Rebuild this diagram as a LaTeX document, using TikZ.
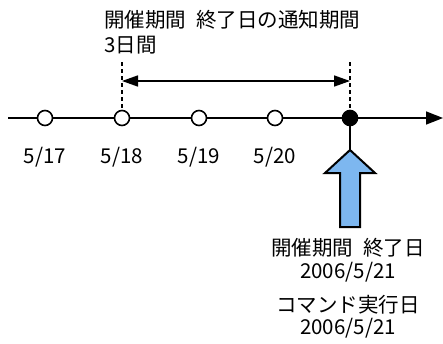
\documentclass[tikz,border=0pt]{standalone}
\usepackage{fontspec}
\setmainfont{Noto Sans CJK JP}
\usetikzlibrary{arrows.meta}
\begin{document}
\begin{tikzpicture}[x=1pt,y=-1pt,
  txt/.style={inner sep=0pt,font=\fontsize{20.5}{24}\selectfont},
  opendot/.style={circle,draw,fill=white,line width=1.6pt,minimum size=15pt,inner sep=0pt},
  fulldot/.style={circle,draw,fill=black,line width=1.6pt,minimum size=15pt,inner sep=0pt},
  axis/.style={line width=1.6pt},
  guide/.style={line width=1.6pt,dash pattern=on 4pt off 3pt}]
\useasboundingbox (0,0) rectangle (443,343);
\coordinate (L) at (8,118);
\coordinate (R) at (443,118);
\draw[axis,-{Triangle[length=17pt,width=13pt]}] (L) -- (R);
\node[opendot] (d17) at (45,118) {};
\node[opendot] (d18) at (122,118) {};
\node[opendot] (d19) at (199,118) {};
\node[opendot] (d20) at (275,118) {};
\node[fulldot] (d21) at (350,118) {};
\node[txt] (l17) at (45,157) {5/17};
\node[txt] (l18) at (122,157) {5/18};
\node[txt] (l19) at (199,157) {5/19};
\node[txt] (l20) at (275,157) {5/20};
\coordinate (t18) at (122,62);
\coordinate (t21) at (350,62);
\draw[guide] (t18) -- (d18.north);
\draw[guide] (t21) -- (d21.north);
\coordinate (a18) at (122,81);
\coordinate (a21) at (350,81);
\draw[axis,{Triangle[length=16pt,width=11pt]}-{Triangle[length=16pt,width=11pt]}] (a18) -- (a21);
\node[txt,anchor=west] (title1) at (104,20) {開催期間\hspace{0.5em}終了日の通知期間};
\node[txt,anchor=west] (title2) at (104,45) {3日間};
\coordinate (tip) at (350,150);
\draw[axis] (d21.south) -- (tip);
\draw[line width=2pt,fill={rgb,255:red,125;green,183;blue,240},line join=miter]
  (tip) -- (375,173) -- (360,173) -- (360,227) -- (340,227) -- (340,173) -- (325,173) -- cycle;
\node[txt] (b1) at (348,248) {開催期間\hspace{0.5em}終了日};
\node[txt] (b2) at (348,272) {2006/5/21};
\node[txt] (b3) at (348,305) {コマンド実行日};
\node[txt] (b4) at (348,328) {2006/5/21};
\end{tikzpicture}
\end{document}
